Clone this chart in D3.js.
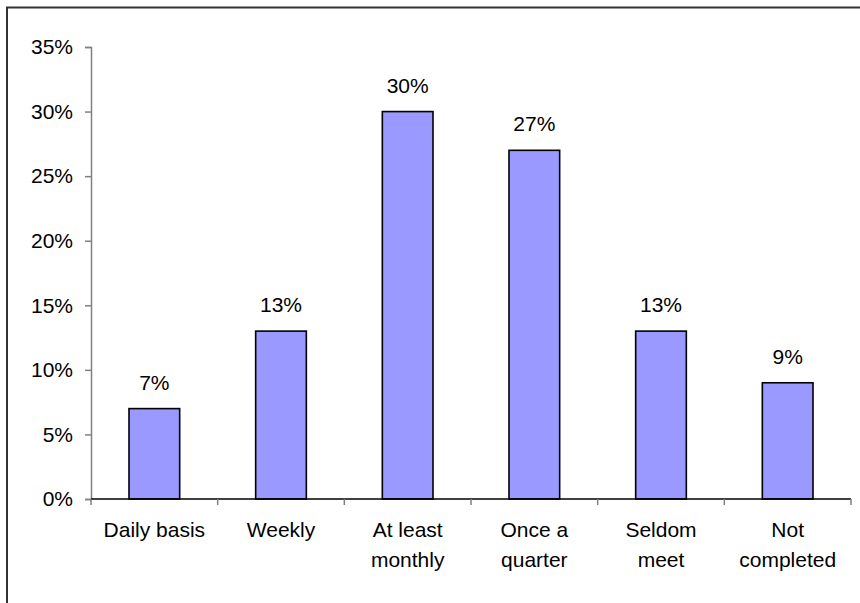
<!DOCTYPE html>
<html>
<head>
<meta charset="utf-8">
<script src="https://cdn.jsdelivr.net/npm/d3@7"></script>
<style>
  body { margin: 0; background: #fff; }
  svg { display: block; font-family: "Liberation Sans", Arial, sans-serif; }
</style>
</head>
<body>
<div id="chart"></div>
<script>
const categories = [["Daily basis"], ["Weekly"], ["At least", "monthly"], ["Once a", "quarter"], ["Seldom", "meet"], ["Not", "completed"]];
const values = [7, 13, 30, 27, 13, 9];
const yTicks = [0, 5, 10, 15, 20, 25, 30, 35];

const outerWidth = 860;
const outerHeight = 603;
const margin = { top: 47, right: 9, bottom: 104, left: 91 };
const width = outerWidth - margin.left - margin.right;
const height = outerHeight - margin.top - margin.bottom;
const fontSize = "21px";

const root = d3.select("#chart")
  .append("svg")
  .attr("width", outerWidth)
  .attr("height", outerHeight);

// outer frame (only top and left edges fall inside the picture)
root.append("rect")
  .attr("x", 7)
  .attr("y", 7.5)
  .attr("width", 900)
  .attr("height", 700)
  .attr("fill", "none")
  .attr("stroke", "#333")
  .attr("stroke-width", 2);

const svg = root.append("g")
  .attr("transform", `translate(${margin.left},${margin.top})`);

const keys = categories.map(d => d.join(" "));

const x = d3.scaleBand()
  .domain(keys)
  .range([0, width])
  .paddingInner(0.6)
  .paddingOuter(0.3);

const xTickScale = d3.scaleLinear()
  .domain([0, keys.length])
  .range([0, width]);

const y = d3.scaleLinear()
  .domain([0, 35])
  .range([height, 0]);

// y axis
const yAxis = svg.append("g")
  .call(d3.axisLeft(y).tickValues(yTicks).tickFormat(d => d + "%").tickSize(6).tickPadding(12));
yAxis.select(".domain").attr("stroke", "#808080").attr("stroke-width", 1.5);
yAxis.selectAll(".tick line").attr("stroke", "#808080").attr("stroke-width", 1.5);
yAxis.selectAll("text")
  .style("font-size", fontSize)
  .style("font-family", "'Liberation Sans', Arial, sans-serif")
  .attr("fill", "#000");

// bars
svg.selectAll("rect.bar")
  .data(values)
  .enter()
  .append("rect")
  .attr("class", "bar")
  .attr("x", (d, i) => x(keys[i]))
  .attr("y", d => y(d))
  .attr("width", x.bandwidth())
  .attr("height", d => height - y(d))
  .attr("fill", "#9999ff")
  .attr("stroke", "#000")
  .attr("stroke-width", 1.6);

// value labels
svg.selectAll("text.val")
  .data(values)
  .enter()
  .append("text")
  .attr("class", "val")
  .attr("x", (d, i) => x(keys[i]) + x.bandwidth() / 2)
  .attr("y", d => y(d) - 19)
  .attr("text-anchor", "middle")
  .style("font-size", fontSize)
  .text(d => d + "%");

// x axis line and ticks between categories
svg.append("line")
  .attr("x1", 0)
  .attr("x2", width)
  .attr("y1", height)
  .attr("y2", height)
  .attr("stroke", "#000")
  .attr("stroke-width", 1.5);

svg.selectAll("line.xtick")
  .data(d3.range(keys.length + 1))
  .enter()
  .append("line")
  .attr("class", "xtick")
  .attr("x1", d => xTickScale(d))
  .attr("x2", d => xTickScale(d))
  .attr("y1", height)
  .attr("y2", height + 6)
  .attr("stroke", "#808080")
  .attr("stroke-width", 1.5);

// category labels
const cat = svg.selectAll("text.cat")
  .data(categories)
  .enter()
  .append("text")
  .attr("class", "cat")
  .attr("text-anchor", "middle")
  .attr("transform", (d, i) => `translate(${x(keys[i]) + x.bandwidth() / 2},${height + 38})`)
  .style("font-size", fontSize);

cat.selectAll("tspan")
  .data(d => d)
  .enter()
  .append("tspan")
  .attr("x", 0)
  .attr("y", (d, i) => i * 30)
  .text(d => d);
</script>
</body>
</html>
